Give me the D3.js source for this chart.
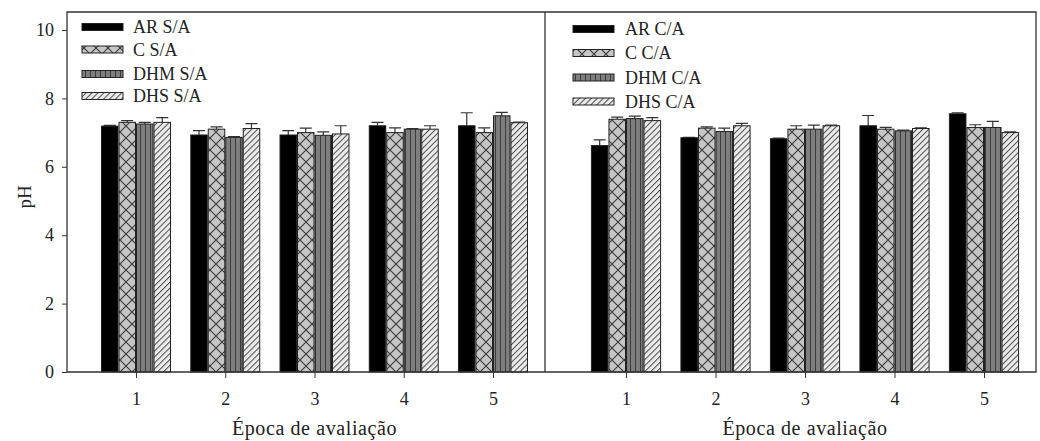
<!DOCTYPE html>
<html>
<head>
<meta charset="utf-8">
<script src="https://cdn.jsdelivr.net/npm/d3@7"></script>
<style>
  html, body { margin: 0; padding: 0; background: #fff; }
  svg text { font-family: "Liberation Serif", "Times New Roman", serif; fill: #222; }
</style>
</head>
<body>
<div id="chart"></div>
<script>
const epocas = [1, 2, 3, 4, 5];
const yTicks = [0, 2, 4, 6, 8, 10];

// sem adubo (S/A)
const namesSA = ['AR S/A', 'C S/A', 'DHM S/A', 'DHS S/A'];
const arSA = [7.19, 6.93, 6.93, 7.20, 7.20];
const cSA = [7.30, 7.10, 7.00, 7.00, 7.00];
const dhmSA = [7.25, 6.86, 6.92, 7.10, 7.49];
const dhsSA = [7.30, 7.12, 6.96, 7.10, 7.29];
const arSAErr = [0.02, 0.13, 0.13, 0.10, 0.38];
const cSAErr = [0.05, 0.07, 0.13, 0.14, 0.14];
const dhmSAErr = [0.05, 0.02, 0.10, 0.02, 0.10];
const dhsSAErr = [0.14, 0.14, 0.24, 0.10, 0.02];

// com adubo (C/A)
const namesCA = ['AR C/A', 'C C/A', 'DHM C/A', 'DHS C/A'];
const arCA = [6.62, 6.85, 6.82, 7.20, 7.55];
const cCA = [7.39, 7.13, 7.10, 7.10, 7.15];
const dhmCA = [7.41, 7.03, 7.10, 7.05, 7.15];
const dhsCA = [7.35, 7.20, 7.20, 7.12, 7.00];
const arCAErr = [0.17, 0.01, 0.02, 0.30, 0.03];
const cCAErr = [0.06, 0.04, 0.10, 0.05, 0.08];
const dhmCAErr = [0.07, 0.10, 0.12, 0.02, 0.18];
const dhsCAErr = [0.09, 0.07, 0.02, 0.02, 0.02];

const WIDTH = 1040;
const HEIGHT = 441;
const TOP = 12;
const BOTTOM = 372;
const LINE = '#333';
const BAR_W = 0.196; // in x units

const svg = d3.create('svg').attr('width', WIDTH).attr('height', HEIGHT);
const defs = svg.append('defs');

// patterns
const pc = defs.append('pattern').attr('id', 'pat-c')
  .attr('patternUnits', 'userSpaceOnUse').attr('width', 12).attr('height', 12);
pc.append('rect').attr('width', 12).attr('height', 12).attr('fill', '#c6c6c6');
pc.append('path').attr('d', 'M0,0L12,12M12,0L0,12')
  .attr('stroke', '#3a3a3a').attr('stroke-width', 1.1);

const pm = defs.append('pattern').attr('id', 'pat-dhm')
  .attr('patternUnits', 'userSpaceOnUse').attr('width', 5).attr('height', 5);
pm.append('rect').attr('width', 5).attr('height', 5).attr('fill', '#7e7e7e');
pm.append('path').attr('d', 'M0.5,0V5').attr('stroke', '#3c3c3c').attr('stroke-width', 1);

const ps = defs.append('pattern').attr('id', 'pat-dhs')
  .attr('patternUnits', 'userSpaceOnUse').attr('width', 4.2).attr('height', 4.2)
  .attr('patternTransform', 'rotate(45)');
ps.append('rect').attr('width', 4.2).attr('height', 4.2).attr('fill', '#ececec');
ps.append('path').attr('d', 'M0.5,0V4.2').attr('stroke', '#4a4a4a').attr('stroke-width', 1);

const fills = ['#000', 'url(#pat-c)', 'url(#pat-dhm)', 'url(#pat-dhs)'];

const y = d3.scaleLinear().domain([0, 10.526]).range([BOTTOM, TOP]);

const panels = [
  {
    x: d3.scaleLinear().domain([0.2269, 5.5826]).range([67, 545]),
    names: namesSA,
    means: [arSA, cSA, dhmSA, dhsSA],
    errs: [arSAErr, cSAErr, dhmSAErr, dhsSAErr],
    legendX: 82, legendTextX: 133, legendY: [27, 49.5, 74, 96],
  },
  {
    x: d3.scaleLinear().domain([0.095, 5.581]).range([545, 1036]),
    names: namesCA,
    means: [arCA, cCA, dhmCA, dhsCA],
    errs: [arCAErr, cCAErr, dhmCAErr, dhsCAErr],
    legendX: 573, legendTextX: 625, legendY: [29, 53, 77.5, 101.5],
  },
];

panels.forEach((p, pi) => {
  const g = svg.append('g');
  const rows = [];
  p.means.forEach((vals, si) => {
    vals.forEach((v, ei) => rows.push({ si, ep: epocas[ei], v, e: p.errs[si][ei] }));
  });

  const x0 = (d) => p.x(d.ep + (d.si - 2) * BAR_W) + 0.5;
  const x1 = (d) => p.x(d.ep + (d.si - 1) * BAR_W) - 0.5;

  // error bars (upper only)
  g.selectAll('.err').data(rows).join('path')
    .attr('class', 'err')
    .attr('d', (d) => {
      const cx = (x0(d) + x1(d)) / 2;
      const top = y(d.v + d.e);
      return `M${cx},${y(d.v)}V${top}M${cx - 6},${top}H${cx + 6}`;
    })
    .attr('stroke', LINE).attr('stroke-width', 1.2).attr('fill', 'none');

  g.selectAll('.bar').data(rows).join('rect')
    .attr('class', 'bar')
    .attr('x', x0)
    .attr('width', (d) => x1(d) - x0(d))
    .attr('y', (d) => y(d.v))
    .attr('height', (d) => y(0) - y(d.v))
    .attr('fill', (d) => fills[d.si])
    .attr('stroke', '#222').attr('stroke-width', 1);

  // x axis
  const ax = g.append('g')
    .attr('transform', `translate(0,${BOTTOM})`)
    .call(d3.axisBottom(p.x).tickValues(epocas).tickSize(6).tickPadding(14).tickFormat(d3.format('d')));
  ax.select('.domain').remove();
  ax.selectAll('line').attr('stroke', LINE);
  ax.selectAll('text').attr('font-size', 18).style('font-family', '"Liberation Serif", serif').attr('fill', '#222');

  g.append('text')
    .attr('x', p.x(3)).attr('y', 435)
    .attr('text-anchor', 'middle').attr('font-size', 20)
    .attr('letter-spacing', 0.6)
    .text('Época de avaliação');

  // legend
  const lg = g.append('g');
  p.names.forEach((name, si) => {
    lg.append('rect')
      .attr('x', p.legendX).attr('y', p.legendY[si] - 3.5)
      .attr('width', 41).attr('height', 7)
      .attr('fill', fills[si]).attr('stroke', '#222').attr('stroke-width', 1);
    lg.append('text')
      .attr('x', p.legendTextX).attr('y', p.legendY[si])
      .attr('dy', '0.35em').attr('font-size', 18)
      .text(name);
  });
});

// y axis
const ay = svg.append('g')
  .attr('transform', 'translate(67,0)')
  .call(d3.axisLeft(y).tickValues(yTicks).tickSize(5).tickPadding(8));
ay.select('.domain').remove();
ay.selectAll('line').attr('stroke', LINE);
ay.selectAll('text').attr('font-size', 18).style('font-family', '"Liberation Serif", serif').attr('fill', '#222');

svg.append('text')
  .attr('transform', 'translate(31,197) rotate(-90)')
  .attr('text-anchor', 'middle').attr('font-size', 19)
  .text('pH');

// frames
svg.append('path')
  .attr('d', `M67,${TOP}H1036V${BOTTOM}H67ZM545,${TOP}V${BOTTOM}`)
  .attr('fill', 'none').attr('stroke', LINE).attr('stroke-width', 1.3);

document.getElementById('chart').appendChild(svg.node());
</script>
</body>
</html>
